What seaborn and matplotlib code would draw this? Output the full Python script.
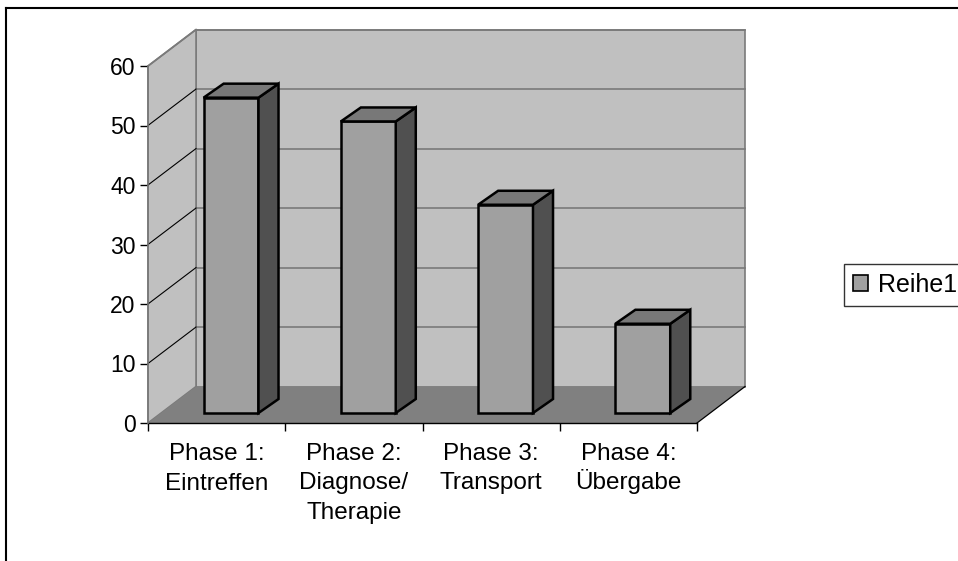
import matplotlib
matplotlib.use("Agg")
import matplotlib.pyplot as plt
import matplotlib.transforms as mtransforms
from matplotlib.patches import Polygon, Patch
from matplotlib.lines import Line2D
import seaborn as sns
import pandas as pd

categories = ["Phase 1:\nEintreffen", "Phase 2:\nDiagnose/\nTherapie",
              "Phase 3:\nTransport", "Phase 4:\nÜbergabe"]
values = [53, 49, 35, 15]
series_name = "Reihe1"
y_ticks = [0, 10, 20, 30, 40, 50, 60]

plt.rcParams['font.family'] = ['Liberation Sans', 'DejaVu Sans']

df = pd.DataFrame({"cat": categories, "val": values})

fig = plt.figure(figsize=(9.58, 5.61), dpi=100)
fig.patch.set_facecolor("white")
W, H = 958, 561
ax = fig.add_axes([148 / W, 1 - 423 / H, 549 / W, 357 / H])
ax.set_facecolor("none")

# 3D geometry (data units)
DX, DY = 0.350, 6.13          # full depth of floor/walls
SX, SY = 0.105, 1.68          # bar front-plane offset
BX, BY = 0.146, 2.35          # bar depth
x0, x1 = -0.5, 3.5
ymax = 60

wall_c = "#c0c0c0"
floor_c = "#808080"
grid_c = "#7a7a7a"

# back wall
ax.add_patch(Polygon([(x0 + DX, DY), (x1 + DX, DY), (x1 + DX, ymax + DY), (x0 + DX, ymax + DY)],
                     closed=True, facecolor=wall_c, edgecolor=grid_c, lw=1.2, zorder=1, clip_on=False))
# left wall
ax.add_patch(Polygon([(x0, 0), (x0, ymax), (x0 + DX, ymax + DY), (x0 + DX, DY)],
                     closed=True, facecolor=wall_c, edgecolor=grid_c, lw=1.2, zorder=1, clip_on=False))
# floor
ax.add_patch(Polygon([(x0, 0), (x1, 0), (x1 + DX, DY), (x0 + DX, DY)],
                     closed=True, facecolor=floor_c, edgecolor="none", lw=0, zorder=1.5, clip_on=False))
ax.plot([x1, x1 + DX], [0, DY], color="black", lw=0.9, zorder=1.6, clip_on=False)

# gridlines on back wall + left wall diagonals
for v in y_ticks[1:]:
    ax.plot([x0 + DX, x1 + DX], [v + DY, v + DY], color=grid_c, lw=1.2, zorder=1.2, clip_on=False)
    ax.plot([x0, x0 + DX], [v, v + DY], color=("black" if v < ymax else grid_c),
            lw=(0.8 if v < ymax else 1.2), zorder=1.2, clip_on=False)

# bars (front faces) via seaborn
sns.barplot(data=df, x="cat", y="val", color="#a0a0a0", width=0.4, saturation=1,
            edgecolor="black", linewidth=1.8, ax=ax, zorder=3)
shift = mtransforms.Affine2D().translate(SX, SY) + ax.transData
bars = [p for p in ax.patches if p.get_zorder() == 3]
for p in bars:
    p.set_transform(shift)
    p.set_clip_on(False)
    p.set_joinstyle("miter")
    bx = p.get_x() + SX
    bw = p.get_width()
    h = p.get_height() + SY
    b = SY
    top = Polygon([(bx, h), (bx + bw, h), (bx + bw + BX, h + BY), (bx + BX, h + BY)], closed=True,
                  facecolor="#787878", edgecolor="black", lw=1.8, zorder=3.1, clip_on=False,
                  joinstyle="miter")
    side = Polygon([(bx + bw, b), (bx + bw + BX, b + BY), (bx + bw + BX, h + BY), (bx + bw, h)], closed=True,
                   facecolor="#505050", edgecolor="black", lw=1.8, zorder=3.0, clip_on=False,
                   joinstyle="miter")
    ax.add_patch(side)
    ax.add_patch(top)

if ax.get_legend() is not None:
    ax.get_legend().remove()

ax.set_xlim(x0, x1)
ax.set_ylim(0, ymax)
ax.set_yticks(y_ticks)
ax.set_yticklabels([str(t) for t in y_ticks], fontsize=16.5)
ax.set_xticks(range(len(categories)))
ax.set_xticklabels([""] * len(categories))
ax.set_xticks([x0 + i for i in range(len(categories) + 1)], minor=True)
ax.tick_params(axis="x", which="major", length=0)
ax.tick_params(axis="x", which="minor", length=6, width=1, color="black", direction="out")
ax.tick_params(axis="y", length=6, width=1, color="black", pad=3, direction="out")
ax.set_xlabel("")
ax.set_ylabel("")

# category labels, line by line with uniform baselines
base = mtransforms.blended_transform_factory(ax.transData, ax.transAxes)
first_px, step_px = 37.0, 29.5
for i, lab in enumerate(categories):
    for j, line in enumerate(lab.split("\n")):
        off = mtransforms.ScaledTranslation(0, -(first_px + j * step_px) / 100, fig.dpi_scale_trans)
        ax.text(i, 0, line, transform=base + off, ha="center", va="baseline",
                fontsize=17.5, color="black", clip_on=False)

for s in ["top", "right"]:
    ax.spines[s].set_visible(False)
ax.spines["left"].set_color(grid_c)
ax.spines["left"].set_linewidth(1.2)
ax.spines["bottom"].set_color("black")
ax.spines["bottom"].set_linewidth(1.0)
ax.spines["bottom"].set_zorder(2)

# legend
handle = Patch(facecolor="#a0a0a0", edgecolor="black", lw=1.2)
leg = fig.legend([handle], [series_name], loc="upper left",
                 bbox_to_anchor=(844 / W, 1 - 264 / H), bbox_transform=fig.transFigure,
                 fontsize=18, frameon=True, fancybox=False, handlelength=0.6, handleheight=0.6,
                 handletextpad=0.4, borderpad=0.35, borderaxespad=0)
leg.get_frame().set_edgecolor("black")
leg.get_frame().set_linewidth(1.0)

# outer chart border
fig.add_artist(Line2D([6 / W, 6 / W], [0, 1 - 8 / H], transform=fig.transFigure, color="black", lw=1.5))
fig.add_artist(Line2D([6 / W, 1], [1 - 8 / H, 1 - 8 / H], transform=fig.transFigure, color="black", lw=1.5))

fig.savefig("out.png", dpi=100)
